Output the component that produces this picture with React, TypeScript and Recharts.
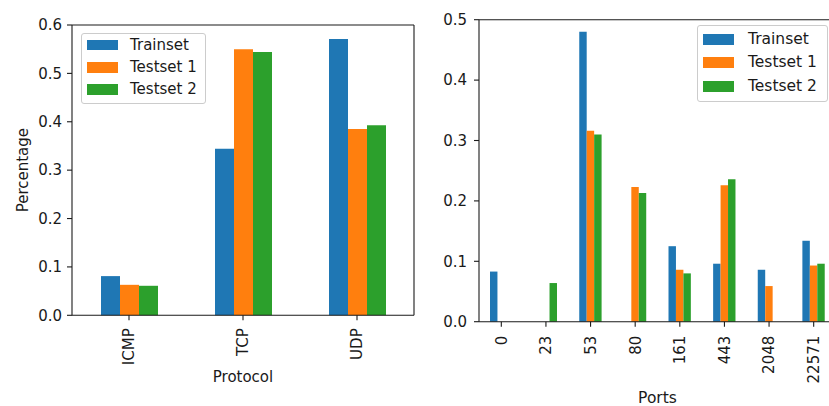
import React from 'react';
import { BarChart, Bar, XAxis, YAxis, Legend, CartesianGrid } from 'recharts';

const protocolCategories = ['ICMP', 'TCP', 'UDP'];
const protocolTrainset = [0.081, 0.344, 0.571];
const protocolTestset1 = [0.063, 0.55, 0.385];
const protocolTestset2 = [0.061, 0.544, 0.393];
const protocolTicks = [0, 0.1, 0.2, 0.3, 0.4, 0.5, 0.6];

const portCategories = ['0', '23', '53', '80', '161', '443', '2048', '22571'];
const portTrainset = [0.083, 0, 0.48, 0, 0.125, 0.096, 0.086, 0.134];
const portTestset1 = [0, 0, 0.316, 0.223, 0.086, 0.226, 0.059, 0.093];
const portTestset2 = [0, 0.064, 0.31, 0.213, 0.08, 0.236, 0, 0.096];
const portTicks = [0, 0.1, 0.2, 0.3, 0.4, 0.5];

const seriesNames = ['Trainset', 'Testset 1', 'Testset 2'];
const seriesKeys = ['train', 'test1', 'test2'];
const seriesColors = ['#1f77b4', '#ff7f0e', '#2ca02c'];

const FONT = '"DejaVu Sans", sans-serif';
const INK = '#1a1a1a';

const protocolData = protocolCategories.map((c, i) => ({
  name: c,
  train: protocolTrainset[i],
  test1: protocolTestset1[i],
  test2: protocolTestset2[i],
}));

const portData = portCategories.map((c, i) => ({
  name: c,
  train: portTrainset[i],
  test1: portTestset1[i],
  test2: portTestset2[i],
}));

const makeRotatedTick = (fontSize: number) => (props: any) => {
  const { x, y, payload } = props;
  return (
    <text
      x={x}
      y={y}
      transform={`rotate(-90, ${x}, ${y})`}
      textAnchor="end"
      dy="0.36em"
      fontFamily={FONT}
      fontSize={fontSize}
      fill={INK}
    >
      {payload.value}
    </text>
  );
};

const YLabel = (props: any) => {
  const vb = props.viewBox || { x: 0, y: 25, width: 72, height: 290 };
  const cx = vb.x + 23;
  const cy = vb.y + vb.height / 2;
  return (
    <text
      x={cx}
      y={cy}
      transform={`rotate(-90, ${cx}, ${cy})`}
      textAnchor="middle"
      dominantBaseline="central"
      fontFamily={FONT}
      fontSize={15}
      fill={INK}
    >
      Percentage
    </text>
  );
};

const makeLegend = (opts: {
  width: number;
  rowHeight: number;
  padTop: number;
  padBottom: number;
  patchW: number;
  patchH: number;
  patchLeft: number;
  textGap: number;
  fontSize: number;
}) => () => (
  <div
    style={{
      width: opts.width,
      boxSizing: 'border-box',
      border: '1px solid #cccccc',
      borderRadius: 3,
      background: 'rgba(255,255,255,0.8)',
      paddingTop: opts.padTop,
      paddingBottom: opts.padBottom,
      fontFamily: FONT,
      fontSize: opts.fontSize,
      color: INK,
    }}
  >
    {seriesNames.map((n, i) => (
      <div
        key={n}
        style={{ display: 'flex', alignItems: 'center', height: opts.rowHeight }}
      >
        <span
          style={{
            display: 'inline-block',
            marginLeft: opts.patchLeft,
            width: opts.patchW,
            height: opts.patchH,
            background: seriesColors[i],
          }}
        />
        <span style={{ marginLeft: opts.textGap, whiteSpace: 'nowrap', lineHeight: 1 }}>{n}</span>
      </div>
    ))}
  </div>
);

const leftLegend = makeLegend({
  width: 125,
  rowHeight: 22.3,
  padTop: 0,
  padBottom: 2,
  patchW: 31,
  patchH: 10.7,
  patchLeft: 5,
  textGap: 12,
  fontSize: 15,
});

const rightLegend = makeLegend({
  width: 131,
  rowHeight: 23.5,
  padTop: 1.5,
  padBottom: 3,
  patchW: 31.3,
  patchH: 11,
  patchLeft: 5,
  textGap: 14,
  fontSize: 15.5,
});

// Frame lines (top and right spines) derived from the chart's plot offset.
const topSpine = (args: any) => [args.offset.top];
const rightSpine = (args: any) => [args.offset.left + args.offset.width];

export default function App() {
  const axisLine = { stroke: INK, strokeWidth: 1.1 };
  const tickStyle = { fontFamily: FONT, fontSize: 15, fill: INK };
  return (
    <div
      style={{
        position: 'absolute',
        left: 0,
        top: 0,
        width: 829,
        height: 406,
        overflow: 'hidden',
        background: '#fff',
      }}
    >
      <div style={{ position: 'absolute', left: 0, top: 0 }}>
        <BarChart
          width={420}
          height={406}
          data={protocolData}
          margin={{ top: 25, right: 6, bottom: 0, left: 0 }}
          barGap={0}
        >
          <CartesianGrid
            xAxisId="b"
            yAxisId="l"
            stroke={INK}
            strokeWidth={1.1}
            horizontalCoordinatesGenerator={topSpine}
            verticalCoordinatesGenerator={rightSpine}
          />
          <XAxis
            xAxisId="b"
            dataKey="name"
            height={90.7}
            tickSize={5}
            tickMargin={8}
            axisLine={axisLine}
            tickLine={axisLine}
            tick={makeRotatedTick(15)}
            interval={0}
            label={{
              value: 'Protocol',
              position: 'insideBottom',
              offset: 24,
              style: { fontFamily: FONT, fontSize: 15, fill: INK },
            }}
          />
          <YAxis
            yAxisId="l"
            width={72}
            domain={[0, 0.6]}
            ticks={protocolTicks}
            tickFormatter={(v: number) => v.toFixed(1)}
            tickSize={5}
            tickMargin={5}
            axisLine={axisLine}
            tickLine={axisLine}
            tick={tickStyle}
            label={<YLabel />}
          />
          <Legend
            layout="vertical"
            align="center"
            verticalAlign="middle"
            content={leftLegend}
            wrapperStyle={{ left: 81, top: 33, width: 125, height: 'auto' }}
          />
          {seriesKeys.map((k, i) => (
            <Bar
              key={k}
              xAxisId="b"
              yAxisId="l"
              dataKey={k}
              name={seriesNames[i]}
              fill={seriesColors[i]}
              barSize={19}
              isAnimationActive={false}
            />
          ))}
        </BarChart>
      </div>
      <div style={{ position: 'absolute', left: 420, top: 0 }}>
        <BarChart
          width={420}
          height={406}
          data={portData}
          margin={{ top: 19.7, right: 4, bottom: 0, left: 0 }}
          barGap={0}
        >
          <CartesianGrid
            xAxisId="b"
            yAxisId="l"
            stroke={INK}
            strokeWidth={1.1}
            horizontalCoordinatesGenerator={topSpine}
            verticalCoordinatesGenerator={rightSpine}
          />
          <XAxis
            xAxisId="b"
            dataKey="name"
            height={84.3}
            tickSize={5}
            tickMargin={9}
            axisLine={axisLine}
            tickLine={axisLine}
            tick={makeRotatedTick(15)}
            interval={0}
            label={{
              value: 'Ports',
              position: 'insideBottom',
              offset: 3.5,
              style: { fontFamily: FONT, fontSize: 15.5, fill: INK },
            }}
          />
          <YAxis
            yAxisId="l"
            width={59}
            domain={[0, 0.5]}
            ticks={portTicks}
            tickFormatter={(v: number) => v.toFixed(1)}
            tickSize={5}
            tickMargin={7}
            axisLine={axisLine}
            tickLine={axisLine}
            tick={tickStyle}
          />
          <Legend
            layout="vertical"
            align="center"
            verticalAlign="middle"
            content={rightLegend}
            wrapperStyle={{ left: 276.7, top: 25, width: 131, height: 'auto' }}
          />
          {seriesKeys.map((k, i) => (
            <Bar
              key={k}
              xAxisId="b"
              yAxisId="l"
              dataKey={k}
              name={seriesNames[i]}
              fill={seriesColors[i]}
              barSize={7.45}
              isAnimationActive={false}
            />
          ))}
        </BarChart>
      </div>
    </div>
  );
}
